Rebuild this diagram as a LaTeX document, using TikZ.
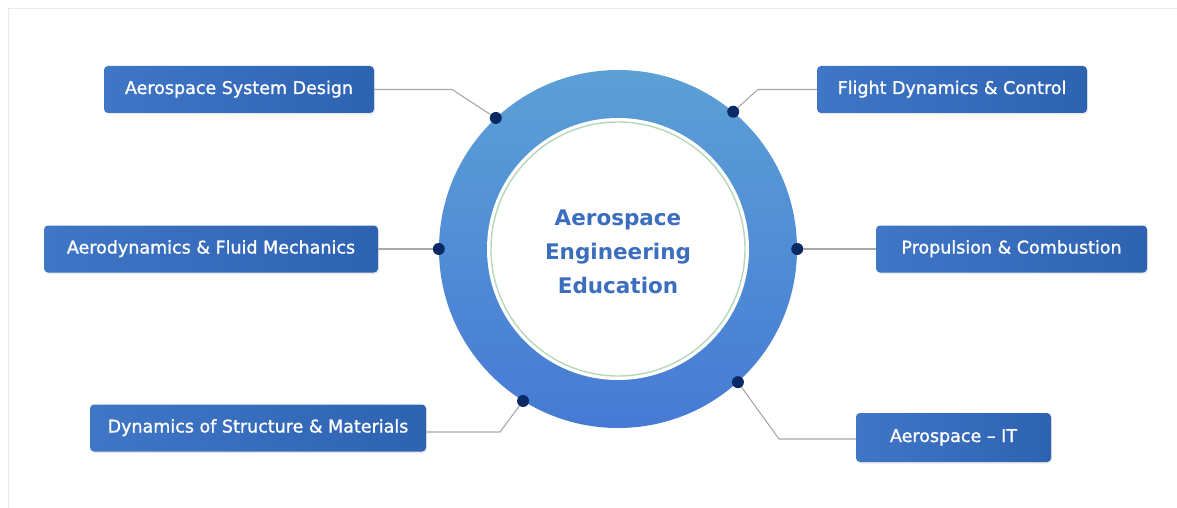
\documentclass[tikz,border=0pt]{standalone}
\usepackage{fontspec}
\setmainfont{DejaVu Sans}
\newfontfamily\topicfont[FakeBold=1.3,Ligatures=TeX]{DejaVu Sans}
\usetikzlibrary{shadows}

\definecolor{boxL}{RGB}{64,118,198}
\definecolor{boxR}{RGB}{46,99,178}
\definecolor{ringTop}{RGB}{92,160,214}
\definecolor{ringBot}{RGB}{70,122,212}
\definecolor{dotc}{RGB}{10,42,102}
\definecolor{linkc}{RGB}{168,168,168}
\definecolor{titlec}{RGB}{60,110,190}
\definecolor{greenc}{RGB}{182,216,186}
\definecolor{framec}{RGB}{234,234,234}

\begin{document}
\begin{tikzpicture}[
	x=1pt, y=-1pt,
	topic/.style={
		rounded corners=4pt, left color=boxL, right color=boxR,
		text=white, font=\topicfont\fontsize{17.5}{20}\selectfont,
		minimum height=47pt, text height=12.5pt, text depth=3.5pt,
		drop shadow={opacity=0.18, shadow xshift=1pt, shadow yshift=-1.5pt}
	},
	hub/.style={circle, inner sep=0pt, minimum size=358pt,
		top color=ringTop, bottom color=ringBot},
	link/.style={draw=linkc, line width=1.1pt},
	dot/.style={circle, fill=dotc, minimum size=12pt, inner sep=0pt}
	]
	\useasboundingbox (0,0) rectangle (1177,508);
	\draw[framec, line width=1pt] (8,508) -- (8,9) -- (1177,9);
	
	% centre ring
	\node[hub] (hub) at (618,249) {};
	\node[circle, fill=white, inner sep=0pt, minimum size=262pt] (disc) at (hub) {};
	\node[circle, draw=greenc, line width=1.4pt, inner sep=0pt, minimum size=254pt] (rim) at (hub) {};
	\node[align=center, text=titlec, font=\bfseries\fontsize{21.5}{34}\selectfont] (title) at (618,252)
		{Aerospace\\Engineering\\Education};
	
	% dots on the ring
	\node[dot] (d1) at (hub.133.7) {};
	\node[dot] (d2) at (hub.50.9) {};
	\node[dot] (d3) at (hub.180) {};
	\node[dot] (d4) at (hub.0) {};
	\node[dot] (d5) at (hub.238.4) {};
	\node[dot] (d6) at (hub.312.7) {};
	
	% left topics
	\node[topic, minimum width=270pt] (asd) at (239,89.5) {Aerospace System Design};
	\node[topic, minimum width=334pt] (afm) at (211,249) {Aerodynamics \& Fluid Mechanics};
	\node[topic, minimum width=336pt] (dsm) at (258,428) {Dynamics of Structure \& Materials};
	
	% right topics
	\node[topic, minimum width=270pt] (fdc) at (952,89.5) {Flight Dynamics \& Control};
	\node[topic, minimum width=271pt] (pc) at (1011.5,249) {Propulsion \& Combustion};
	\node[topic, minimum width=195pt, minimum height=49pt] (ait) at (953.5,437.5) {Aerospace -- IT};
	
	% connectors
	\coordinate (b1) at (452,89.5);
	\coordinate (b2) at (758,89.5);
	\coordinate (b5) at (500,432);
	\coordinate (b6) at (779,439);
	\draw[link] (asd.east) -- (b1) -- (d1);
	\draw[link] (fdc.west) -- (b2) -- (d2);
	\draw[link] (afm.east) -- (d3);
	\draw[link] (pc.west) -- (d4);
	\draw[link] (dsm.east |- b5) -- (b5) -- (d5);
	\draw[link] (ait.west |- b6) -- (b6) -- (d6);
	
\end{tikzpicture}
\end{document}
